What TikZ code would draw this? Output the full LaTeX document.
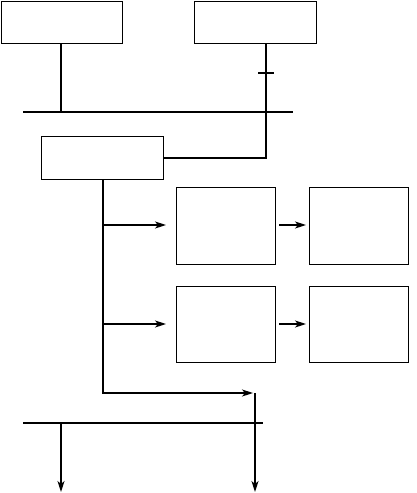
\documentclass[tikz,border=0pt]{standalone}
\usetikzlibrary{arrows.meta}
\begin{document}
\begin{tikzpicture}[x=1pt,y=-1pt,
  box/.style={draw,line width=1.4pt,inner sep=0pt,anchor=north west},
  conn/.style={line width=1.3pt},
  arr/.style={conn,-{Stealth[length=11pt,width=7pt,inset=3pt]}}]
\useasboundingbox (0,0) rectangle (416,493);
\node[box,minimum width=121pt,minimum height=42pt] (A) at (1,1) {};
\node[box,minimum width=122pt,minimum height=42pt] (B) at (194,1) {};
\node[box,minimum width=122pt,minimum height=43pt] (C) at (41,136) {};
\node[box,minimum width=99pt,minimum height=77pt] (D) at (176,187) {};
\node[box,minimum width=99pt,minimum height=77pt] (E) at (309,187) {};
\node[box,minimum width=99pt,minimum height=76pt] (F) at (176,286) {};
\node[box,minimum width=99pt,minimum height=76pt] (G) at (309,286) {};
% bus 1
\coordinate (b1l) at (23,112);
\coordinate (b1r) at (293,112);
\draw[conn] (b1l) -- (b1r);
\coordinate (a1) at (61,112);
\draw[conn] (A.south -| a1) -- (a1);
% B to C
\coordinate (bk) at (266,158);
\coordinate (tk) at (266,73);
\draw[conn] (B.south -| bk) -- (bk) -- (C.east |- bk);
\draw[conn] ([xshift=-8pt]tk) -- ([xshift=8pt]tk);
% C down
\coordinate (cd) at (103,393);
\coordinate (ce) at (253,393);
\draw[arr] (C.south -| cd) -- (cd) -- (ce);
\coordinate (r1) at (103,225);
\coordinate (r2) at (103,324);
\draw[arr] (r1) -- ([xshift=-10pt]D.west |- r1);
\draw[arr] (r2) -- ([xshift=-10pt]F.west |- r2);
\draw[arr] ([xshift=3pt]D.east |- r1) -- ([xshift=-3pt]E.west |- r1);
\draw[arr] ([xshift=3pt]F.east |- r2) -- ([xshift=-3pt]G.west |- r2);
% bus 2
\coordinate (b2l) at (23,423);
\coordinate (b2r) at (263,423);
\draw[conn] (b2l) -- (b2r);
\coordinate (v1) at (255,393);
\coordinate (v1e) at (255,492);
\draw[arr] (v1) -- (v1e);
\coordinate (a2) at (61,423);
\coordinate (a2e) at (61,492);
\draw[arr] (a2) -- (a2e);
\end{tikzpicture}
\end{document}
